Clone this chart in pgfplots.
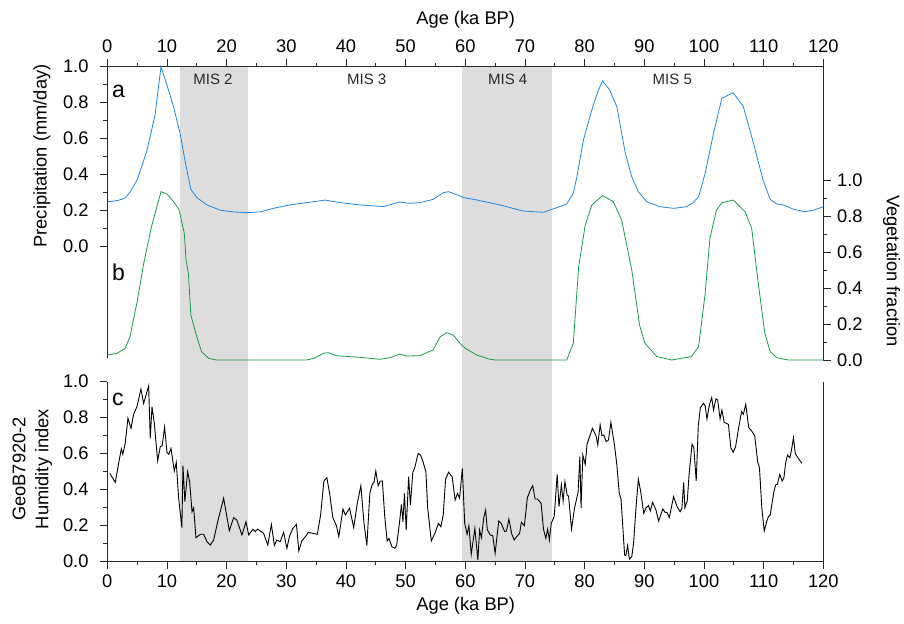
\documentclass[border=0pt]{standalone}
\usepackage{fontspec}
\setmainfont{Liberation Sans}
\usepackage{pgfplots}
\pgfplotsset{compat=1.18}
\definecolor{precblue}{RGB}{28,136,226}
\definecolor{veggreen}{RGB}{22,155,72}
\definecolor{misgray}{RGB}{221,221,221}
\definecolor{axgray}{RGB}{40,40,40}
\pgfplotsset{
  myaxis/.style={
    scale only axis, width=716bp, xmin=0, xmax=120, clip=false,
    axis line style={draw=none},
    tick align=outside, major tick length=7.5bp, minor tick length=4bp,
    every tick/.style={line width=0.8bp, color=axgray},
    tick label style={font=\fontsize{18.3bp}{22bp}\selectfont},
    /pgf/number format/assume math mode=true,
  },
  ynum/.style={yticklabel style={/pgf/number format/fixed, /pgf/number format/fixed zerofill, /pgf/number format/precision=1}},
  leftlab/.style={yticklabel style={xshift=-5bp}},
}
\begin{document}
\fontsize{18.3bp}{22bp}\selectfont
\begin{tikzpicture}
\useasboundingbox (0bp,0bp) rectangle (904bp,624bp);

% humidity (panel c)
\begin{axis}[myaxis, ynum, leftlab, at={(107.3bp,63bp)}, anchor=south west, height=179.3bp,
  ymin=0, ymax=1,
  xtick={0,10,...,120}, minor xtick={5,15,...,115}, xtick pos=left, xticklabel pos=left,
  ytick={0,0.2,0.4,0.6,0.8,1}, minor ytick={0.1,0.3,0.5,0.7,0.9}, ytick pos=left, yticklabel pos=left]
\fill[misgray] (axis cs:12.2,0) rectangle (axis cs:23.6,2.757);
\fill[misgray] (axis cs:59.4,0) rectangle (axis cs:74.5,2.757);
\draw[line width=0.8bp, axgray] (rel axis cs:0,1) -- (rel axis cs:0,0) -- (rel axis cs:1,0) -- (rel axis cs:1,1);
\addplot[black, line width=0.9bp, mark=none] coordinates {
(0.4,0.489)(1.34,0.439)(1.9,0.545)(2.35,0.625)(2.6,0.595)(3.0,0.656)(3.46,0.796)(3.97,0.74)(4.41,0.818)(4.97,0.861)
(5.64,0.959)(6.09,0.879)(6.93,0.976)(7.2,0.684)(7.49,0.861)(7.88,0.768)(8.44,0.558)(8.88,0.638)(9.2,0.643)(9.6,0.747)
(10.0,0.606)(10.3,0.595)(10.67,0.628)(11.23,0.502)(11.56,0.55)(11.96,0.35)(12.5,0.186)(12.68,0.532)(13.0,0.331)(13.46,0.498)
(13.8,0.442)(14.2,0.275)(14.47,0.297)(14.86,0.13)(15.6,0.149)(16.15,0.149)(16.7,0.108)(17.26,0.089)(17.82,0.117)(18.5,0.219)
(19.5,0.35)(20.45,0.169)(21.17,0.242)(21.7,0.229)(22.57,0.145)(23.24,0.219)(23.7,0.145)(24.4,0.177)(24.8,0.164)(25.2,0.178)
(26.2,0.154)(26.9,0.089)(27.5,0.204)(28.0,0.086)(28.4,0.117)(28.99,0.108)(29.55,0.16)(30.1,0.071)(30.56,0.141)(31.1,0.182)
(31.7,0.204)(32.1,0.056)(32.6,0.112)(33.2,0.136)(33.7,0.16)(34.5,0.154)(35.2,0.149)(35.75,0.257)(36.3,0.446)(36.8,0.465)
(37.3,0.368)(37.8,0.242)(38.4,0.197)(38.8,0.136)(39.5,0.29)(39.9,0.257)(40.6,0.294)(41.3,0.186)(41.9,0.322)(42.5,0.42)
(43.0,0.219)(43.5,0.086)(44.0,0.377)(44.4,0.428)(44.7,0.439)(45.0,0.502)(45.4,0.42)(45.75,0.446)(46.1,0.446)(46.5,0.247)
(46.9,0.112)(47.2,0.126)(47.7,0.08)(48.2,0.071)(48.5,0.089)(49.0,0.223)(49.3,0.316)(49.55,0.219)(49.8,0.377)(50.1,0.173)
(50.5,0.47)(50.8,0.312)(51.2,0.495)(51.5,0.517)(52.1,0.6)(52.5,0.591)(52.9,0.554)(53.4,0.498)(53.7,0.294)(54.3,0.112)
(54.9,0.154)(55.5,0.21)(55.9,0.191)(56.3,0.257)(56.7,0.457)(57.2,0.495)(57.8,0.47)(58.3,0.34)(58.7,0.377)(59.05,0.35)
(59.5,0.517)(59.9,0.21)(60.3,0.149)(60.6,0.197)(61.0,0.037)(61.6,0.182)(62.1,0.006)(62.4,0.173)(62.7,0.13)(63.1,0.242)
(63.4,0.284)(63.7,0.173)(64.2,0.145)(64.6,0.141)(65.0,0.043)(65.6,0.223)(66.0,0.21)(66.6,0.164)(66.9,0.167)(67.3,0.234)
(67.8,0.149)(68.2,0.117)(68.6,0.136)(69.1,0.154)(69.4,0.216)(69.9,0.197)(70.4,0.353)(70.9,0.396)(71.3,0.42)(71.7,0.346)
(72.1,0.346)(72.7,0.322)(73.1,0.178)(73.5,0.126)(73.8,0.178)(74.1,0.117)(74.4,0.21)(74.9,0.247)(75.4,0.483)(75.7,0.303)
(76.1,0.424)(76.4,0.335)(76.7,0.442)(77.1,0.364)(77.3,0.364)(77.8,0.178)(78.3,0.294)(78.9,0.383)(79.2,0.582)(79.4,0.297)
(79.7,0.591)(80.1,0.539)(80.4,0.651)(81.3,0.74)(81.9,0.699)(82.2,0.647)(82.6,0.76)(82.9,0.699)(83.2,0.703)(83.6,0.666)
(84.0,0.675)(84.4,0.773)(85.0,0.647)(85.4,0.535)(85.8,0.377)(86.1,0.346)(86.7,0.033)(86.9,0.03)(87.2,0.086)(87.5,0.011)
(87.9,0.024)(88.2,0.099)(88.6,0.294)(89.0,0.457)(89.4,0.387)(89.9,0.266)(90.3,0.297)(90.7,0.309)(91.0,0.279)(91.4,0.327)
(91.96,0.284)(92.4,0.223)(93.1,0.29)(93.5,0.271)(93.8,0.271)(94.2,0.242)(94.9,0.359)(95.5,0.303)(96.0,0.275)(96.3,0.294)
(96.6,0.439)(96.8,0.297)(97.2,0.335)(97.5,0.48)(98.0,0.651)(98.3,0.632)(98.7,0.446)(99.05,0.758)(99.4,0.855)(99.9,0.879)
(100.2,0.866)(100.5,0.792)(100.9,0.87)(101.3,0.911)(101.6,0.842)(102.0,0.904)(102.3,0.898)(102.7,0.792)(103.0,0.842)(103.4,0.773)
(104.1,0.762)(104.5,0.632)(104.9,0.606)(105.3,0.638)(105.8,0.74)(106.3,0.833)(106.6,0.818)(107.0,0.874)(107.5,0.744)(108.0,0.725)
(108.5,0.699)(109.0,0.554)(109.3,0.52)(109.7,0.294)(110.1,0.167)(110.5,0.219)(110.8,0.247)(111.1,0.257)(111.7,0.383)(112.0,0.424)
(112.3,0.428)(112.7,0.483)(113.1,0.446)(113.4,0.465)(113.7,0.55)(114.0,0.591)(114.4,0.576)(114.7,0.625)(115.0,0.688)(115.3,0.6)
(115.8,0.573)(116.4,0.545)
};
\end{axis}

% precipitation (panel a)
\begin{axis}[myaxis, ynum, leftlab, at={(107.3bp,264bp)}, anchor=south west, height=293.3bp,
  ymin=-0.6358, ymax=1,
  xtick={0,10,...,120}, minor xtick={5,15,...,115}, xtick pos=right, xticklabel pos=right,
  ytick={0,0.2,0.4,0.6,0.8,1}, minor ytick={0.1,0.3,0.5,0.7,0.9}, ytick pos=left, yticklabel pos=left]
\draw[line width=0.8bp, axgray] (rel axis cs:0,0.006) -- (rel axis cs:0,1) -- (rel axis cs:1,1) -- (rel axis cs:1,0);
\addplot[precblue, line width=0.8bp, mark=none] coordinates {
(0,0.247)(1,0.25)(2,0.256)(3,0.268)(3.8,0.30)(5,0.368)(6.6,0.526)(8,0.73)(9,1.0)(10,0.898)(11.1,0.777)
(12.2,0.628)(13,0.48)(14,0.316)(15,0.27)(16.7,0.229)(18.9,0.20)(21.1,0.19)(23.4,0.186)(25.6,0.19)(27.8,0.21)
(30.6,0.229)(33.4,0.242)(36.5,0.256)(39,0.242)(42.3,0.229)(46.3,0.22)(49,0.245)(50.7,0.238)(52.4,0.242)(54.6,0.26)
(56.3,0.297)(57.2,0.303)(59.1,0.279)(59.7,0.27)(61.9,0.257)(65.8,0.229)(69.7,0.195)(73.1,0.188)(75,0.21)(77,0.234)
(78.1,0.294)(78.7,0.386)(79.8,0.591)(81.2,0.759)(82.2,0.86)(83,0.922)(84.2,0.87)(85.4,0.777)(86.2,0.63)(86.8,0.52)(87.9,0.386)(89,0.303)
(90.4,0.247)(92.6,0.219)(94.9,0.21)(97.1,0.219)(98.2,0.242)(99.1,0.275)(100.2,0.405)(101.6,0.628)(103,0.824)(104.9,0.855)
(106.6,0.777)(108.3,0.573)(109.9,0.368)(111.1,0.26)(112.2,0.234)(113.3,0.229)(115,0.205)(116.9,0.191)(118.3,0.20)(120,0.219)
};
\end{axis}

% vegetation (panel b)
\begin{axis}[myaxis, ynum, at={(107.3bp,264bp)}, anchor=south west, height=293.3bp,
  ymin=0, ymax=1.6358, xtick=\empty,
  ytick={0,0.2,0.4,0.6,0.8,1}, minor ytick={0.1,0.3,0.5,0.7,0.9}, ytick pos=right, yticklabel pos=right]
\addplot[veggreen, line width=0.8bp, mark=none] coordinates {
(0,0.028)(1.6,0.037)(3,0.065)(3.8,0.13)(5,0.325)(6.1,0.539)(7.4,0.743)(9,0.939)(10,0.926)(11.1,0.883)
(12,0.84)(12.9,0.707)(13.2,0.558)(13.6,0.48)(14,0.251)(15,0.13)(15.8,0.046)(17,0.009)(18.3,0)(33.4,0)
(34.6,0.009)(36.2,0.037)(37,0.041)(38.4,0.024)(42.3,0.015)(45.7,0.004)(47.4,0.013)(49,0.033)(50.2,0.022)(52.4,0.024)
(54.6,0.056)(55.8,0.13)(56.9,0.152)(58,0.139)(59.1,0.093)(60,0.065)(61.9,0.028)(64.1,0.004)(65,0)(77,0)
(78.1,0.093)(79,0.52)(80.1,0.753)(81.2,0.864)(83,0.917)(84.8,0.883)(86.2,0.781)(87.9,0.502)(89.2,0.195)(90.1,0.093)
(92.1,0.019)(94.6,0)(97.9,0.019)(99.1,0.074)(100.2,0.372)(101,0.679)(102.1,0.837)(103,0.877)(104.9,0.892)(106.9,0.827)
(108,0.734)(109.1,0.428)(110.2,0.149)(111.1,0.046)(112.2,0.013)(114.1,0)(120,0)
};
\end{axis}

% annotations
\begin{scope}[x=1bp,y=1bp]
\node[font=\fontsize{15bp}{18bp}\selectfont, text=axgray, anchor=base] at (213,539) {MIS 2};
\node[font=\fontsize{15bp}{18bp}\selectfont, text=axgray, anchor=base] at (366.7,539) {MIS 3};
\node[font=\fontsize{15bp}{18bp}\selectfont, text=axgray, anchor=base] at (507.7,539) {MIS 4};
\node[font=\fontsize{15bp}{18bp}\selectfont, text=axgray, anchor=base] at (672.3,539) {MIS 5};
\node[font=\fontsize{23bp}{26bp}\selectfont, anchor=base west, inner sep=0pt] at (112,526.7) {a};
\node[font=\fontsize{23bp}{26bp}\selectfont, anchor=base west, inner sep=0pt] at (112,344) {b};
\node[font=\fontsize{23bp}{26bp}\selectfont, anchor=base west, inner sep=0pt] at (112,219) {c};
\node at (465.7,604) {Age (ka BP)};
\node at (465.7,18) {Age (ka BP)};
\node[rotate=90] at (42,468) {Precipitation (mm/day)};
\node[rotate=-90] at (891.7,353) {Vegetation fraction};
\node[rotate=90, align=center, font=\fontsize{18.3bp}{23bp}\selectfont] at (32.5,155) {GeoB7920-2\\Humidity index};
\end{scope}
\end{tikzpicture}
\end{document}
